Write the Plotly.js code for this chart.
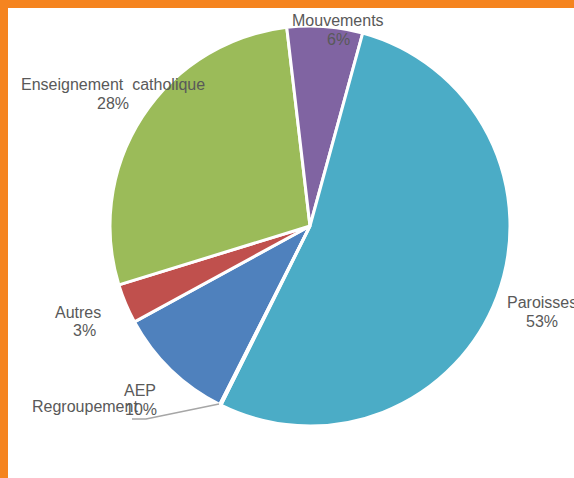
<!DOCTYPE html>
<html>
<head>
<meta charset="utf-8">
<script src="https://cdn.plot.ly/plotly-3.0.1.min.js"></script>
<style>
html,body{margin:0;padding:0;background:#fff;}
#frame{position:relative;width:574px;height:478px;background:#F5841F;overflow:hidden;}
#chart{position:absolute;left:8px;top:8px;width:566px;height:470px;background:#fff;}
</style>
</head>
<body>
<div id="frame"><div id="chart"></div></div>
<script>
// Data (alphabetical order as in the source sheet)
const categories = ["AEP", "Autres", "Enseignement  catholique", "Mouvements", "Paroisses", "Regroupement"];
const values = [9.6, 3.2, 27.9, 6.1, 53.1, 0.1];
const colors = ["#4F81BD", "#C0504D", "#9BBB59", "#8064A2", "#4BACC6", "#F79646"];

const total = values.reduce((a, b) => a + b, 0);
const pct = values.map(v => Math.round(v / total * 100) + "%");

// label positions in page pixels [nameX, nameY, pctX, pctY] ; null pct => no percent line
const labelPos = {
  "AEP": [140, 390, 141, 409],
  "Autres": [78, 312, 84, 330],
  "Enseignement  catholique": [113, 85, 113, 104],
  "Mouvements": [338, 21, 338, 40],
  "Paroisses": [542, 302, 542, 321],
  "Regroupement": [85, 406, null, null]
};

const W = 566, H = 470, OX = 8, OY = 8;
const px = x => (x - OX) / W;
const py = y => 1 - (y - OY) / H;

const font = {family: "Liberation Sans, Arial, sans-serif", size: 16, color: "#595959"};
const annotations = [];
categories.forEach((c, i) => {
  const p = labelPos[c];
  annotations.push({xref: "paper", yref: "paper", x: px(p[0]), y: py(p[1]), text: c.replace(/  /g, "&nbsp; "),
    showarrow: false, xanchor: "center", yanchor: "middle", font: font});
  if (p[2] !== null) {
    annotations.push({xref: "paper", yref: "paper", x: px(p[2]), y: py(p[3]), text: pct[i],
      showarrow: false, xanchor: "center", yanchor: "middle", font: font});
  }
});

const cx = 310, cy = 226, r = 200;
const trace = {
  type: "pie",
  labels: categories,
  values: values,
  sort: false,
  direction: "clockwise",
  rotation: 206.8,
  marker: {colors: colors, line: {color: "#FFFFFF", width: 3}},
  textinfo: "none",
  hoverinfo: "none",
  showlegend: false,
  domain: {x: [px(cx - r), px(cx + r)], y: [py(cy + r), py(cy - r)]}
};

const layout = {
  width: W, height: H,
  margin: {l: 0, r: 0, t: 0, b: 0},
  paper_bgcolor: "#FFFFFF",
  showlegend: false,
  annotations: annotations,
  shapes: [{
    type: "path", xref: "paper", yref: "paper",
    path: `M ${px(219)} ${py(404)} L ${px(146)} ${py(419)} L ${px(132)} ${py(419)}`,
    line: {color: "#A6A6A6", width: 1.5}
  }]
};

Plotly.newPlot("chart", [trace], layout, {displayModeBar: false, staticPlot: true});
</script>
</body>
</html>
